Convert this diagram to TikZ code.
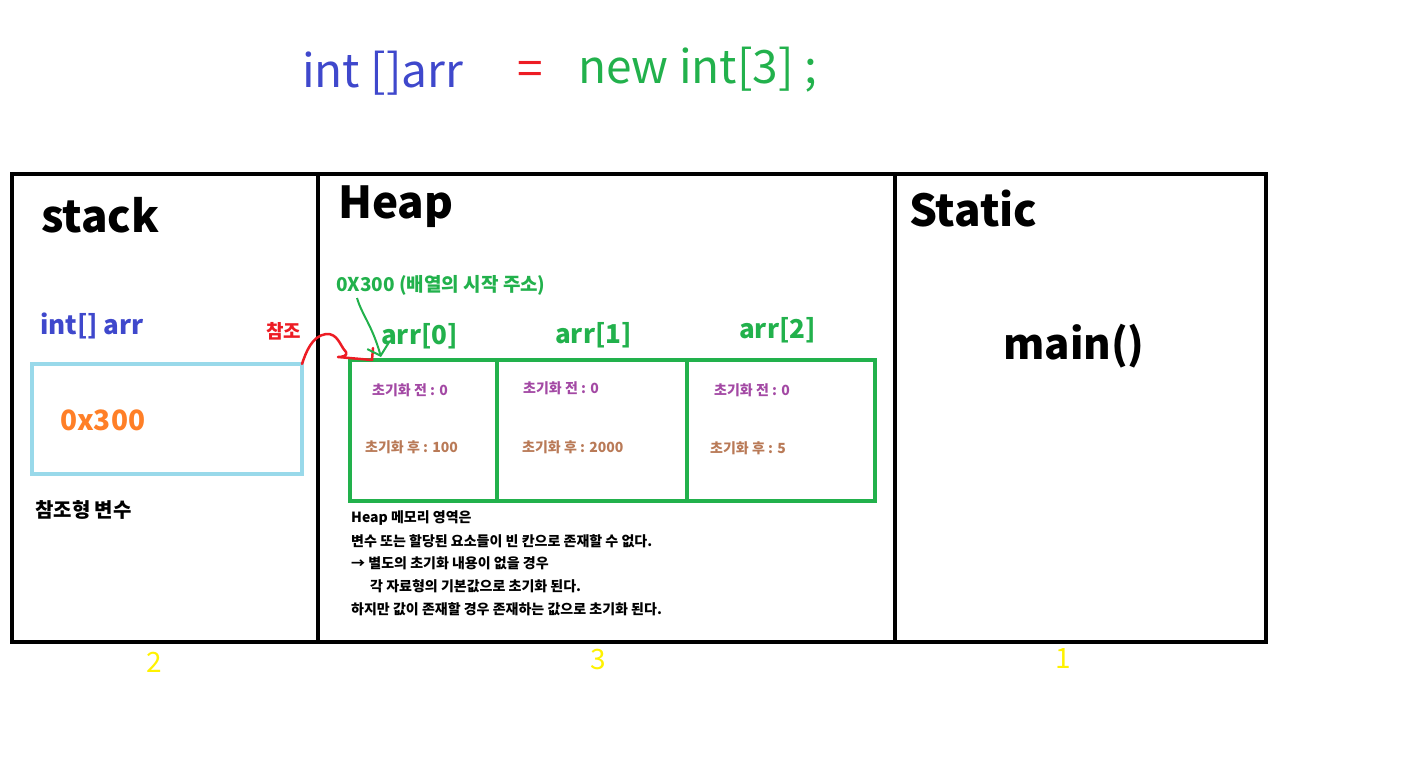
\documentclass[tikz,border=0pt]{standalone}
\usepackage{fontspec}
\setmainfont{Noto Sans CJK KR}
\usetikzlibrary{arrows.meta}
\definecolor{cblue}{HTML}{3F48CC}
\definecolor{cgreen}{HTML}{22B14C}
\definecolor{cred}{HTML}{ED1C24}
\definecolor{corange}{HTML}{FF7F27}
\definecolor{clight}{HTML}{99D9EA}
\definecolor{cpurple}{HTML}{A349A4}
\definecolor{cbrown}{HTML}{B97A57}
\definecolor{cyellow}{HTML}{FFF200}
\tikzset{
  frame/.style={draw=black,line width=4pt,outer sep=0pt,inner sep=0pt,anchor=north west},
  title/.style={font=\fontsize{44}{50}\selectfont\bfseries,anchor=west,inner sep=0pt},
  cellbox/.style={draw=cgreen,line width=4pt,outer sep=0pt,inner sep=0pt,anchor=north west},
  before/.style={font=\fontsize{14}{16}\selectfont\bfseries,text=cpurple,anchor=west,inner sep=0pt},
  after/.style={font=\fontsize{14}{16}\selectfont\bfseries,text=cbrown,anchor=west,inner sep=0pt},
  idx/.style={font=\fontsize{26}{30}\selectfont\bfseries,text=cgreen,anchor=west,inner sep=0pt},
  note/.style={font=\fontsize{14}{16}\selectfont\bfseries,anchor=west,inner sep=0pt},
  num/.style={font=\fontsize{28}{30}\selectfont,text=cyellow,inner sep=0pt},
  big/.style={font=\fontsize{46}{50}\selectfont,inner sep=0pt,anchor=west}
}
\begin{document}
\begin{tikzpicture}[x=1pt,y=-1pt]
\useasboundingbox (0,0) rectangle (1412,774);
% top statement
\node[big,text=cblue] (decl) at (302,73) {int []arr};
\node[big,text=cred] (eq) at (517,73) {=};
\node[big,text=cgreen] (newx) at (578,70) {new int[3] ;};
% frames
\node[frame,minimum width=306pt,minimum height=468pt] (stack) at (12,174) {};
\node[frame,minimum width=577pt,minimum height=468pt] (heap) at (318,174) {};
\node[frame,minimum width=371pt,minimum height=468pt] (static) at (895,174) {};
\node[title] (tstack) at (41,215) {stack};
\node[title] (theap) at (338,207) {Heap};
\node[title] (tstatic) at (909,209) {Static};
% stack content
\node[font=\fontsize{26}{30}\selectfont\bfseries,text=cblue,anchor=west,inner sep=0pt] (var) at (40,326) {int[] arr};
\node[draw=clight,line width=4pt,minimum width=270pt,minimum height=110pt,anchor=north west,inner sep=0pt,outer sep=0pt] (sbox) at (32,364) {};
\node[font=\fontsize{28}{30}\selectfont\bfseries,text=corange,anchor=west,inner sep=0pt] (addr) at (60,420) {0x300};
\node[font=\fontsize{20}{22}\selectfont\bfseries,anchor=west,inner sep=0pt] (kind) at (35,510) {참조형 변수};
\node[font=\fontsize{19}{20}\selectfont\bfseries,text=cred,anchor=west,inner sep=0pt] (ref) at (266,331) {참조};
% heap cells
\node[cellbox,minimum width=147pt,minimum height=141pt] (c0) at (350,360) {};
\node[cellbox,minimum width=190pt,minimum height=141pt] (c1) at (497,360) {};
\node[cellbox,minimum width=188pt,minimum height=141pt] (c2) at (687,360) {};
\node[idx] (i0) at (381,336) {arr[0]};
\node[idx] (i1) at (555,335) {arr[1]};
\node[idx] (i2) at (739,330) {arr[2]};
\node[font=\fontsize{19}{20}\selectfont\bfseries,text=cgreen,anchor=west,inner sep=0pt] (start) at (336,285) {0X300 (배열의 시작 주소)};
\node[before] (b0) at (372,390) {초기화 전 : 0};
\node[before] (b1) at (523,388) {초기화 전 : 0};
\node[before] (b2) at (714,390) {초기화 전 : 0};
\node[after] (a0) at (365,447) {초기화 후 : 100};
\node[after] (a1) at (522,447) {초기화 후 : 2000};
\node[after] (a2) at (710,448) {초기화 후 : 5};
% notes
\node[note] (n1) at (351,518) {Heap 메모리 영역은};
\node[note] (n2) at (351,541) {변수 또는 할당된 요소들이 빈 칸으로 존재할 수 없다.};
\node[note] (n3) at (351,563) {→ 별도의 초기화 내용이 없을 경우};
\node[note] (n4) at (370,586) {각 자료형의 기본값으로 초기화 된다.};
\node[note] (n5) at (351,609) {하지만 값이 존재할 경우 존재하는 값으로 초기화 된다.};
% static
\node[font=\fontsize{42}{46}\selectfont\bfseries,anchor=west,inner sep=0pt] (main) at (1003,346) {main()};
% yellow numbers
\node[num] (y2) at (154,662) {2};
\node[num] (y3) at (598,660) {3};
\node[num] (y1) at (1063,659) {1};
% red reference curve
\coordinate (rend) at (373,348);
\draw[cred,line width=2.5pt,line cap=round,line join=round] (sbox.north east)
  .. controls (306,352) and (312,336) .. (326,334)
  .. controls (338,333) and (340,346) .. (346,352)
  .. controls (348,356) and (342,357) .. (338,357)
  -- (372,360) -- (rend);
% green arrow
\coordinate (gtip) at (381,357);
\draw[cgreen,line width=2pt,-{Straight Barb[length=10pt,width=22pt]}] (357,298)
  .. controls (362,315) and (372,325) .. (gtip);
\end{tikzpicture}
\end{document}
